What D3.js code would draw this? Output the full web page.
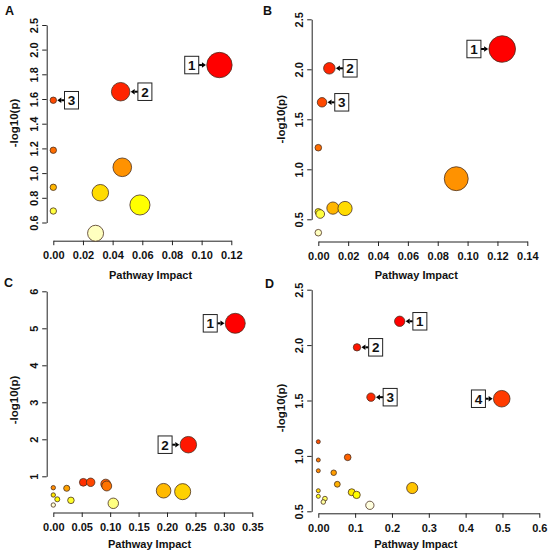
<!DOCTYPE html>
<html><head><meta charset="utf-8">
<script src="https://cdn.jsdelivr.net/npm/d3@7"></script>
<style>
body{margin:0;background:#fff}
svg{display:block}
text{font-family:"Liberation Sans",Arial,Helvetica,sans-serif;font-weight:bold;fill:#111}
</style></head><body>
<svg id="chart" width="550" height="556"></svg>
<script>
// ---------- DATA (pathway impact vs -log10(p)), sorted by -log10(p) descending ----------
const impactA = [0.112, 0.0454, 0.000, 0.000, 0.0465, 0.000, 0.0317, 0.0584, 0.000, 0.0285];
const logpA   = [1.875, 1.659, 1.590, 1.185, 1.047, 0.885, 0.841, 0.742, 0.693, 0.513];
const labelsA = ["1", "2", "3", "", "", "", "", "", "", ""];

const impactB = [0.1232, 0.0074, 0.0025, 0.000, 0.0924, 0.0098, 0.0179, 0.000, 0.0013, 0.000];
const logpB   = [2.203, 2.010, 1.670, 1.216, 0.906, 0.612, 0.608, 0.575, 0.553, 0.366];
const labelsB = ["1", "2", "3", "", "", "", "", "", "", ""];

const impactC = [0.320, 0.2375, 0.0528, 0.0657, 0.0922, 0.094, 0.000, 0.0236, 0.194, 0.2275, 0.000, 0.0070, 0.0310, 0.1055, 0.000];
const logpC   = [5.135, 1.854, 0.838, 0.838, 0.790, 0.738, 0.692, 0.676, 0.610, 0.585, 0.495, 0.378, 0.350, 0.270, 0.224];
const labelsC = ["1", "2", "", "", "", "", "", "", "", "", "", "", "", "", ""];

const impactD = [0.221, 0.105, 0.143, 0.498, 0.000, 0.0798, 0.000, 0.000, 0.0418, 0.0516, 0.255, 0.000, 0.0907, 0.104, 0.000, 0.018, 0.0136, 0.140];
const logpD   = [2.215, 1.980, 1.530, 1.516, 1.128, 0.987, 0.963, 0.866, 0.848, 0.744, 0.710, 0.686, 0.672, 0.648, 0.635, 0.614, 0.584, 0.554];
const labelsD = ["1", "2", "3", "4", "", "", "", "", "", "", "", "", "", "", "", "", "", ""];

// ---------- TICKS ----------
const xTicksA = [0, 0.02, 0.04, 0.06, 0.08, 0.10, 0.12];
const xTickLabelsA = ["0.00", "0.02", "0.04", "0.06", "0.08", "0.10", "0.12"];
const yTicksA = [0.6, 0.8, 1.0, 1.2, 1.4, 1.6, 1.8, 2.0, 2.5];
const yTickLabelsA = ["0.6", "0.8", "1.0", "1.2", "1.4", "1.6", "1.8", "2.0", "2.5"];

const xTicksB = [0, 0.02, 0.04, 0.06, 0.08, 0.10, 0.12, 0.14];
const xTickLabelsB = ["0.00", "0.02", "0.04", "0.06", "0.08", "0.10", "0.12", "0.14"];
const yTicksB = [0.5, 1.0, 1.5, 2.0, 2.5];
const yTickLabelsB = ["0.5", "1.0", "1.5", "2.0", "2.5"];

const xTicksC = [0, 0.05, 0.10, 0.15, 0.20, 0.25, 0.30, 0.35];
const xTickLabelsC = ["0.00", "0.05", "0.10", "0.15", "0.20", "0.25", "0.30", "0.35"];
const yTicksC = [1, 2, 3, 4, 5, 6];
const yTickLabelsC = ["1", "2", "3", "4", "5", "6"];

const xTicksD = [0, 0.1, 0.2, 0.3, 0.4, 0.5, 0.6];
const xTickLabelsD = ["0.00", "0.1", "0.2", "0.3", "0.4", "0.5", "0.6"];
const yTicksD = [0.5, 1.0, 1.5, 2.0, 2.5];
const yTickLabelsD = ["0.5", "1.0", "1.5", "2.0", "2.5"];

const xTitle = "Pathway Impact";
const yTitle = "-log10(p)";

// ---------- LAYOUT ----------
const panels = [
  {letter:"A", lx:5, ly:15, impact:impactA, logp:logpA, labels:labelsA,
   xt:xTicksA, xl:xTickLabelsA, yt:yTicksA, yl:yTickLabelsA,
   xRange:[53.3,231.3], xAxisY:240.7, yAxisX:46.7,
   yDomain:[0.6,2.0,2.5], yRange:[222.5,49.6,25],
   xTitlePos:[150.5,278.5], yTitlePos:[18,123], rMin:3.2, rMax:12.7, rExp:0.5},
  {letter:"B", lx:263, ly:14.5, impact:impactB, logp:logpB, labels:labelsB,
   xt:xTicksB, xl:xTickLabelsB, yt:yTicksB, yl:yTickLabelsB,
   xRange:[318.3,527.3], xAxisY:241.5, yAxisX:311.7,
   yDomain:[0.5,2.5], yRange:[219.3,19.3],
   xTitlePos:[416.3,278.5], yTitlePos:[284.5,119.3], rMin:3.3, rMax:13.3, rExp:0.5},
  {letter:"C", lx:4, ly:287, impact:impactC, logp:logpC, labels:labelsC,
   xt:xTicksC, xl:xTickLabelsC, yt:yTicksC, yl:yTickLabelsC,
   xRange:[53.3,252.3], xAxisY:512.5, yAxisX:46.7,
   yDomain:[1,6], yRange:[476.3,291.3],
   xTitlePos:[149.5,547.5], yTitlePos:[18,400], rMin:2.2, rMax:10, rExp:0.85},
  {letter:"D", lx:265, ly:287.5, impact:impactD, logp:logpD, labels:labelsD,
   xt:xTicksD, xl:xTickLabelsD, yt:yTicksD, yl:yTickLabelsD,
   xRange:[318.3,539.3], xAxisY:513.3, yAxisX:311.7,
   yDomain:[0.5,2.5], yRange:[511.3,289.7],
   xTitlePos:[415.8,548], yTitlePos:[284.5,408], rMin:2, rMax:8.3, rExp:0.85}
];

// R's heat.colors(n)
function heatColors(n){
  const j = Math.floor(n/4), i = n - j, out = [];
  for (let k=0;k<i;k++){
    const h = i>1 ? (k/(i-1))/6 : 0;
    out.push(d3.hsl(h*360, 1, 0.5).formatHex());
  }
  for (let k=0;k<j;k++){
    const s0 = 1 - 1/(2*j), s1 = 1/(2*j);
    const s = j>1 ? s0 + k*(s1-s0)/(j-1) : s0;
    out.push(d3.rgb(255,255,Math.round(255*(1-s))).formatHex());
  }
  return out;
}

const svg = d3.select("#chart");
const FS = 11;

panels.forEach(p => {
  const g = svg.append("g");
  const xMax = p.xt[p.xt.length-1];
  const x = d3.scaleLinear().domain([0, xMax]).range(p.xRange);
  const y = d3.scaleLinear().domain(p.yDomain).range(p.yRange);
  const rs = d3.scalePow().exponent(p.rExp).domain([0, d3.max(p.impact)]).range([p.rMin, p.rMax]);
  const data = p.impact.map((v,i)=>({impact:v, logp:p.logp[i], label:p.labels[i]}));
  const ranks = d3.range(data.length).sort((a,b)=>data[b].logp - data[a].logp);
  const cols = heatColors(data.length);
  ranks.forEach((idx,k)=>{ data[idx].color = cols[k]; });

  // panel letter
  g.append("text").attr("x", p.lx).attr("y", p.ly).attr("font-size", 12.5).text(p.letter);

  // x axis
  const xa = d3.axisBottom(x).tickValues(p.xt).tickFormat((d,i)=>p.xl[i]).tickSize(4.5).tickSizeOuter(0).tickPadding(6.5);
  const gx = g.append("g").attr("transform", `translate(0,${p.xAxisY})`).call(xa);
  gx.selectAll("text").attr("font-size", FS).attr("font-family", null).style("fill","#111");
  gx.selectAll("path,line").attr("stroke","#222").attr("stroke-width",1);

  // y axis
  const ya = d3.axisLeft(y).tickValues(p.yt).tickFormat((d,i)=>p.yl[i]).tickSize(4.5).tickSizeOuter(0);
  const gy = g.append("g").attr("transform", `translate(${p.yAxisX},0)`).call(ya);
  gy.selectAll("text").attr("font-size", FS).attr("font-family", null)
    .attr("x", 0).attr("dy", 0).attr("text-anchor","middle")
    .attr("transform","translate(-8.5,0) rotate(-90)").style("fill","#111");
  gy.selectAll("path,line").attr("stroke","#222").attr("stroke-width",1);

  // titles
  g.append("text").attr("x", p.xTitlePos[0]).attr("y", p.xTitlePos[1]).attr("text-anchor","middle")
    .attr("font-size", FS).text(xTitle);
  g.append("text").attr("transform", `translate(${p.yTitlePos[0]},${p.yTitlePos[1]}) rotate(-90)`)
    .attr("text-anchor","middle").attr("font-size", 11.5).text(yTitle);

  // bubbles
  g.append("g").selectAll("circle").data(data).join("circle")
    .attr("cx", d=>x(d.impact)).attr("cy", d=>y(d.logp)).attr("r", d=>rs(d.impact))
    .attr("fill", d=>d.color).attr("stroke","#4a3020").attr("stroke-width",0.8);

  // labels
  data.filter(d=>d.label).forEach(d=>{
    const cx = x(d.impact), cy = y(d.logp), r = rs(d.impact);
    const left = d.impact > xMax/2;
    const gap = 8, bw = 14, bh = 17.5;
    const dir = left ? 1 : -1;
    const tip = left ? cx - r - 0.8 : cx + r + 0.8;
    const boxEdge = left ? cx - r - gap : cx + r + gap;
    const bx = left ? boxEdge - bw : boxEdge;
    const headLen = 4, headHalf = 2.8;
    const shaftEnd = tip - dir*headLen;
    g.append("line").attr("x1", boxEdge).attr("x2", shaftEnd).attr("y1", cy).attr("y2", cy)
      .attr("stroke","#000").attr("stroke-width",2);
    g.append("path").attr("d", `M${tip},${cy}L${shaftEnd},${cy-headHalf}L${shaftEnd},${cy+headHalf}Z`).attr("fill","#000");
    g.append("rect").attr("x", bx).attr("y", cy - bh/2).attr("width", bw).attr("height", bh)
      .attr("fill","#fff").attr("stroke","#222").attr("stroke-width",1);
    g.append("text").attr("x", bx + bw/2).attr("y", cy + 4.9).attr("text-anchor","middle")
      .attr("font-size", 13.5).text(d.label);
  });
});
</script>
</body></html>
